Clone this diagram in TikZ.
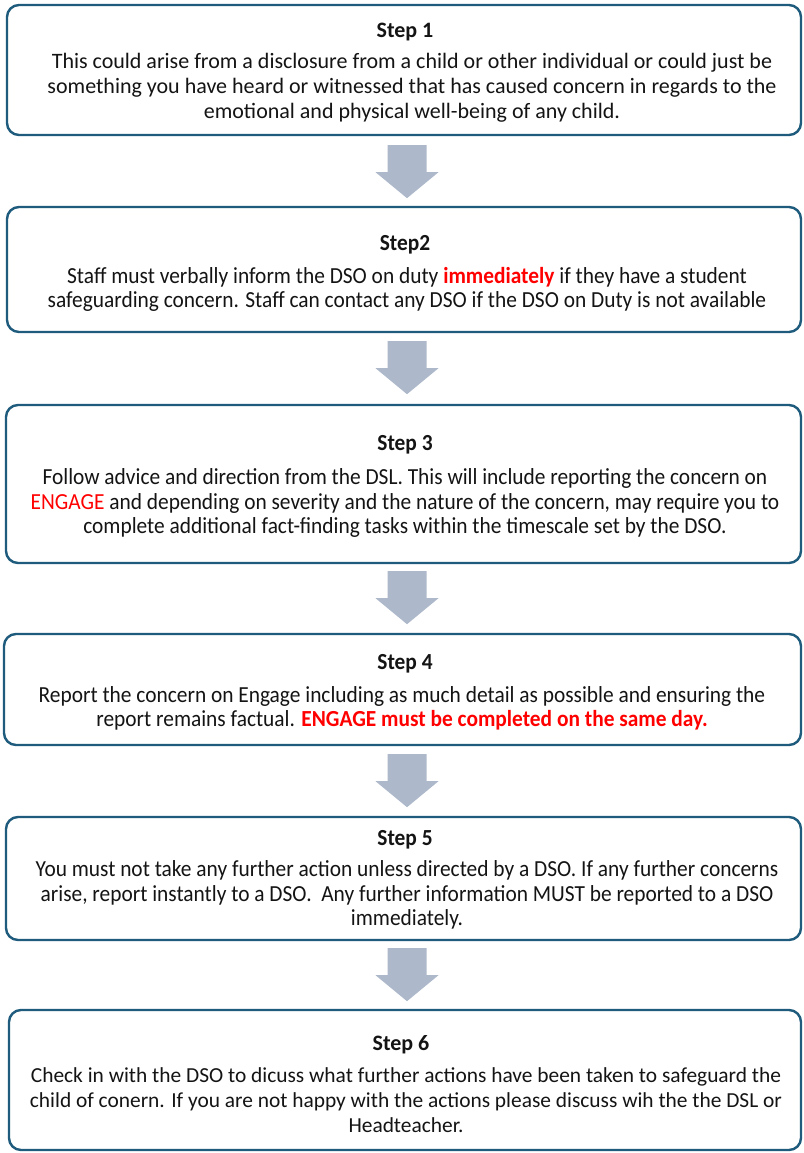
\documentclass[tikz,border=0pt]{standalone}
\usepackage{fontspec}
\setmainfont{Carlito}
\newfontfamily\cond{Carlito}[FakeStretch=0.93]
\usetikzlibrary{calc}
\definecolor{boxline}{HTML}{1F5B7C}
\definecolor{arrowfill}{HTML}{ADB9CA}
\definecolor{txt}{HTML}{141414}
\definecolor{hot}{HTML}{FF0000}
\tikzset{
  stepbox/.style={draw=boxline, line width=2.4pt, rounded corners=12pt, fill=white, inner sep=0pt},
  steptitle/.style={font=\fontsize{22}{25}\selectfont\bfseries, text=txt, inner sep=0pt},
  stepbody/.style={font=\fontsize{22}{25}\selectfont, text=txt, align=center, inner sep=0pt},
  ctitle/.style={steptitle, font=\fontsize{23}{25}\selectfont\cond\bfseries},
  cbody/.style={stepbody, font=\fontsize{23}{24.6}\selectfont\cond},
  blockarrow/.style={fill=arrowfill, draw=none}
}
% #1 = box the arrow leaves, #2 = offset of the arrow's top from that box's south anchor
\newcommand{\downblock}[2]{%
  \coordinate (top) at ($(#1.south)+(#2)$);
  \fill[blockarrow] ($(top)+(-19.5,0)$) -- ($(top)+(19.5,0)$) -- ($(top)+(19.5,27)$)
    -- ($(top)+(31.5,27)$) -- ($(top)+(0,53)$) -- ($(top)+(-31.5,27)$)
    -- ($(top)+(-19.5,27)$) -- cycle;
}
\begin{document}
\begin{tikzpicture}[x=1pt, y=-1pt]
\useasboundingbox (0,0) rectangle (803,1153);
% boxes
\node[stepbox, minimum width=794pt, minimum height=130pt] (b1) at (404,70) {};
\node[stepbox, minimum width=794pt, minimum height=125pt] (b2) at (404,269.5) {};
\node[stepbox, minimum width=795pt, minimum height=158pt] (b3) at (403.5,484) {};
\node[stepbox, minimum width=797pt, minimum height=111pt] (b4) at (402.5,689.5) {};
\node[stepbox, minimum width=795pt, minimum height=123pt] (b5) at (403.5,878.5) {};
\node[stepbox, minimum width=792pt, minimum height=140pt] (b6) at (405,1080) {};
% texts
\node[steptitle] (h1) at (405,32) {Step 1};
\node[stepbody] (t1) at (412,88) {This could arise from a disclosure from a child or other individual or could just be\\
something you have heard or witnessed that has caused concern in regards to the\\
emotional and physical well-being of any child.};
\node[ctitle] (h2) at (405,245) {Step2};
\node[cbody] (t2) at (407,289.5) {Staff must verbally inform the DSO on duty {\bfseries\color{hot}immediately} if they have a student\\
safeguarding concern. Staff can contact any DSO if the DSO on Duty is not available};
\node[ctitle] (h3) at (405,445) {Step 3};
\node[cbody] (t3) at (405,503) {Follow advice and direction from the DSL. This will include reporting the concern on\\
{\color{hot}ENGAGE} and depending on severity and the nature of the concern, may require you to\\
complete additional fact-finding tasks within the timescale set by the DSO.};
\node[ctitle] (h4) at (405,664) {Step 4};
\node[cbody] (t4) at (402,708.5) {Report the concern on Engage including as much detail as possible and ensuring the\\
report remains factual. {\bfseries\color{hot}ENGAGE must be completed on the same day.}};
\node[ctitle] (h5) at (405,840) {Step 5};
\node[cbody] (t5) at (407,895) {You must not take any further action unless directed by a DSO. If any further concerns\\
arise, report instantly to a DSO.\ \ Any further information MUST be reported to a DSO\\
immediately.};
\node[steptitle] (h6) at (401,1045) {Step 6};
\node[stepbody, font=\fontsize{21.4}{25}\selectfont] (t6) at (406,1100) {Check in with the DSO to dicuss what further actions have been taken to safeguard the\\
child of conern. If you are not happy with the actions please discuss wih the the DSL or\\
Headteacher.};
% block arrows between the boxes
\downblock{b1}{3,9}
\downblock{b2}{3,8}
\downblock{b3}{3.5,7}
\downblock{b4}{4.5,8}
\downblock{b5}{3.5,7}
\end{tikzpicture}
\end{document}
